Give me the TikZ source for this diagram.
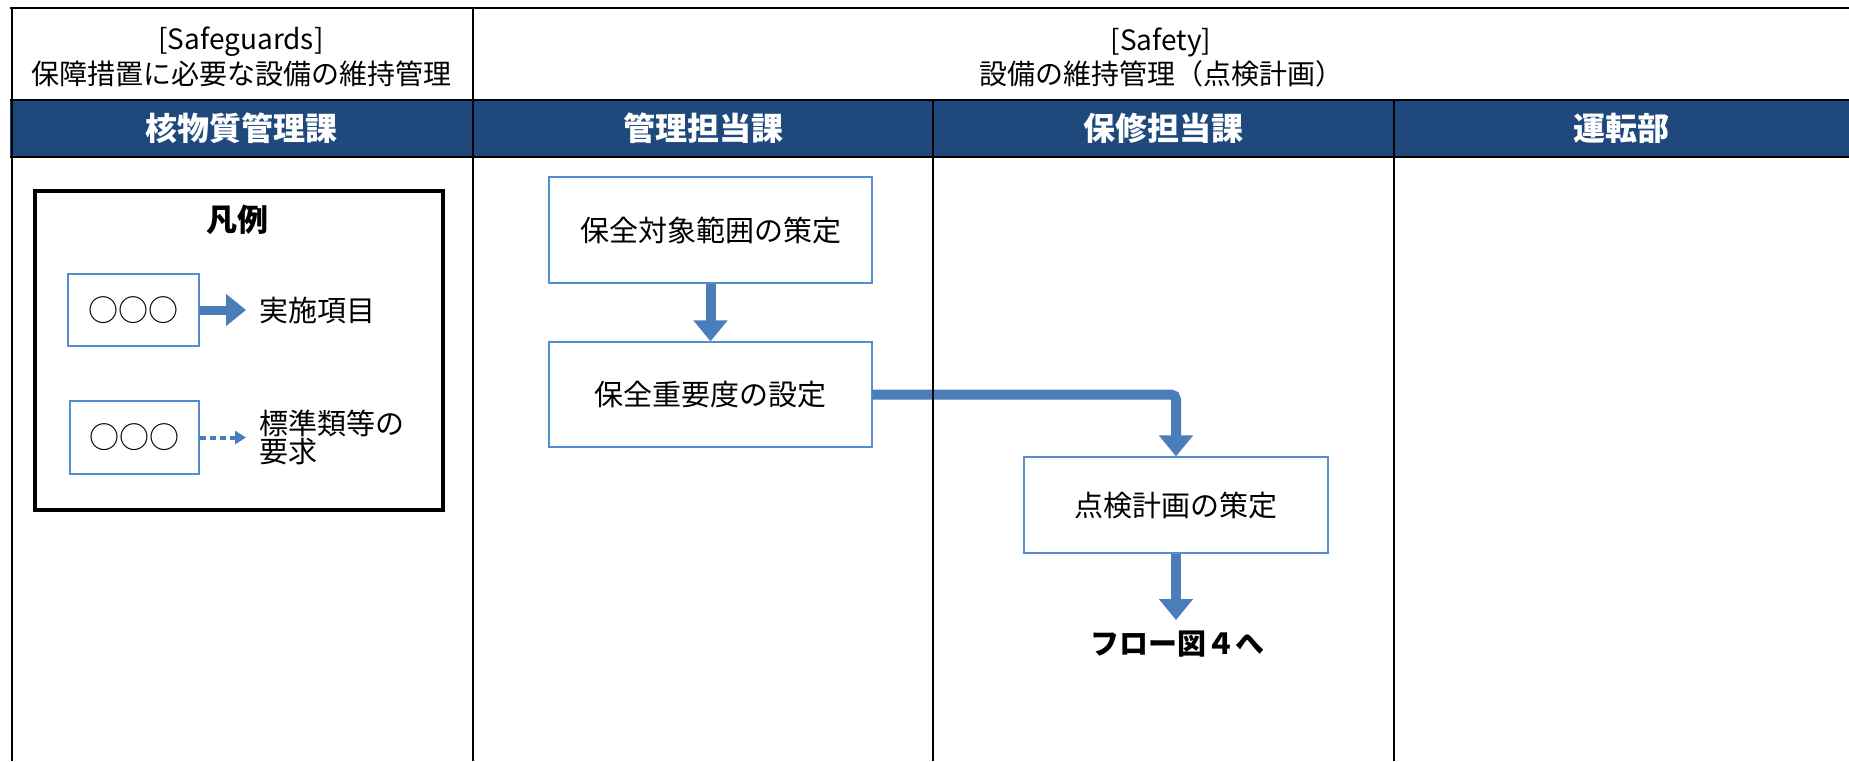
\documentclass[tikz,border=0pt]{standalone}
\usepackage{fontspec}
\setmainfont{Noto Sans CJK JP}
\usetikzlibrary{arrows.meta}
\definecolor{hdrblue}{RGB}{31,73,125}
\definecolor{boxblue}{RGB}{84,141,205}
\definecolor{arrblue}{RGB}{74,126,187}
\tikzset{
  gridline/.style={draw=black, line width=2pt},
  flowbox/.style={draw=boxblue, line width=1.3pt, fill=white, inner sep=0pt, font=\fontsize{29}{32}\selectfont},
  legbox/.style={draw=boxblue, line width=1.3pt, fill=white, inner sep=0pt, font=\fontsize{30}{33}\selectfont},
  flowarrow/.style={draw=arrblue, line width=10pt, -{Triangle[width=33pt,length=21pt]}, color=arrblue},
  dotarrow/.style={draw=arrblue, line width=4pt, dash pattern=on 6pt off 4pt, -{Triangle[width=13pt,length=11pt]}, color=arrblue},
  hdrtext/.style={font=\fontsize{28}{31}\selectfont, inner sep=0pt},
  bandtext/.style={font=\fontsize{32}{34}\selectfont\bfseries, text=white, inner sep=0pt},
  plaintext/.style={font=\fontsize{29}{32}\selectfont, inner sep=0pt}
}
\begin{document}
\begin{tikzpicture}[x=1pt, y=-1pt]
\useasboundingbox (0,0) rectangle (1849,761);
\fill[white] (0,0) rectangle (1849,761);
% blue band
\fill[hdrblue] (10,100) rectangle (1849,157);
% flow boxes
\node[flowbox, minimum width=323pt, minimum height=106pt] (b1) at (710.5,230) {保全対象範囲の策定};
\node[flowbox, minimum width=323pt, minimum height=105pt] (b2) at (710.5,394.5) {保全重要度の設定};
\node[flowbox, minimum width=304pt, minimum height=96pt] (b3) at (1176,505) {点検計画の策定};
\coordinate (fl4) at (1176,620);
% connectors
\draw[flowarrow] (b1.south) -- (b2.north);
\draw[flowarrow, rounded corners=5pt] (b2.east) -- (b3.north |- b2.east) -- (b3.north);
\draw[flowarrow] (b3.south) -- (fl4);
% grid lines
\draw[gridline] (10,7.5) -- (1849,7.5);
\draw[gridline] (11.5,7) -- (11.5,761);
\draw[gridline] (473,7) -- (473,761);
\draw[gridline] (933,100) -- (933,761);
\draw[gridline] (1394,100) -- (1394,761);
\draw[black, line width=2.5pt] (10,100) -- (1849,100);
\draw[black, line width=2.5pt] (10,157) -- (1849,157);
% header texts
\node[hdrtext] (h1a) at (241,42) {[Safeguards]};
\node[hdrtext] (h1b) at (241,74) {保障措置に必要な設備の維持管理};
\node[hdrtext] (h2a) at (1161,42) {[Safety]};
\node[hdrtext] (h2b) at (1161,74) {設備の維持管理（点検計画）};
\node[bandtext] (c1) at (241,128.5) {核物質管理課};
\node[bandtext] (c2) at (703,128.5) {管理担当課};
\node[bandtext] (c3) at (1163,128.5) {保修担当課};
\node[bandtext] (c4) at (1621,128.5) {運転部};
% flow label
\node[font=\fontsize{29}{32}\selectfont\bfseries, inner sep=0pt] (fl4t) at (1177,644) {フロー図４へ};
% legend
\node[draw=black, line width=4pt, minimum width=408pt, minimum height=319pt, inner sep=0pt] (leg) at (239,350.5) {};
\node[font=\fontsize{31}{34}\selectfont\bfseries, inner sep=0pt] (legt) at (237,220) {凡例};
\node[legbox, minimum width=131pt, minimum height=72pt] (lb1) at (133.5,310) {○○○};
\node[legbox, minimum width=129pt, minimum height=73pt] (lb2) at (134.5,437.5) {○○○};
\coordinate (la1) at (246,310);
\coordinate (la2) at (246,437.5);
\draw[flowarrow, line width=9pt, -{Triangle[width=31pt,length=20pt]}] (lb1.east) -- (la1);
\draw[dotarrow] (lb2.east) -- (la2);
\node[plaintext, anchor=west] (lt1) at (259,310) {実施項目};
\node[plaintext, anchor=west, align=left, font=\fontsize{29}{28}\selectfont] (lt2) at (259,437) {標準類等の\\要求};
\end{tikzpicture}
\end{document}
